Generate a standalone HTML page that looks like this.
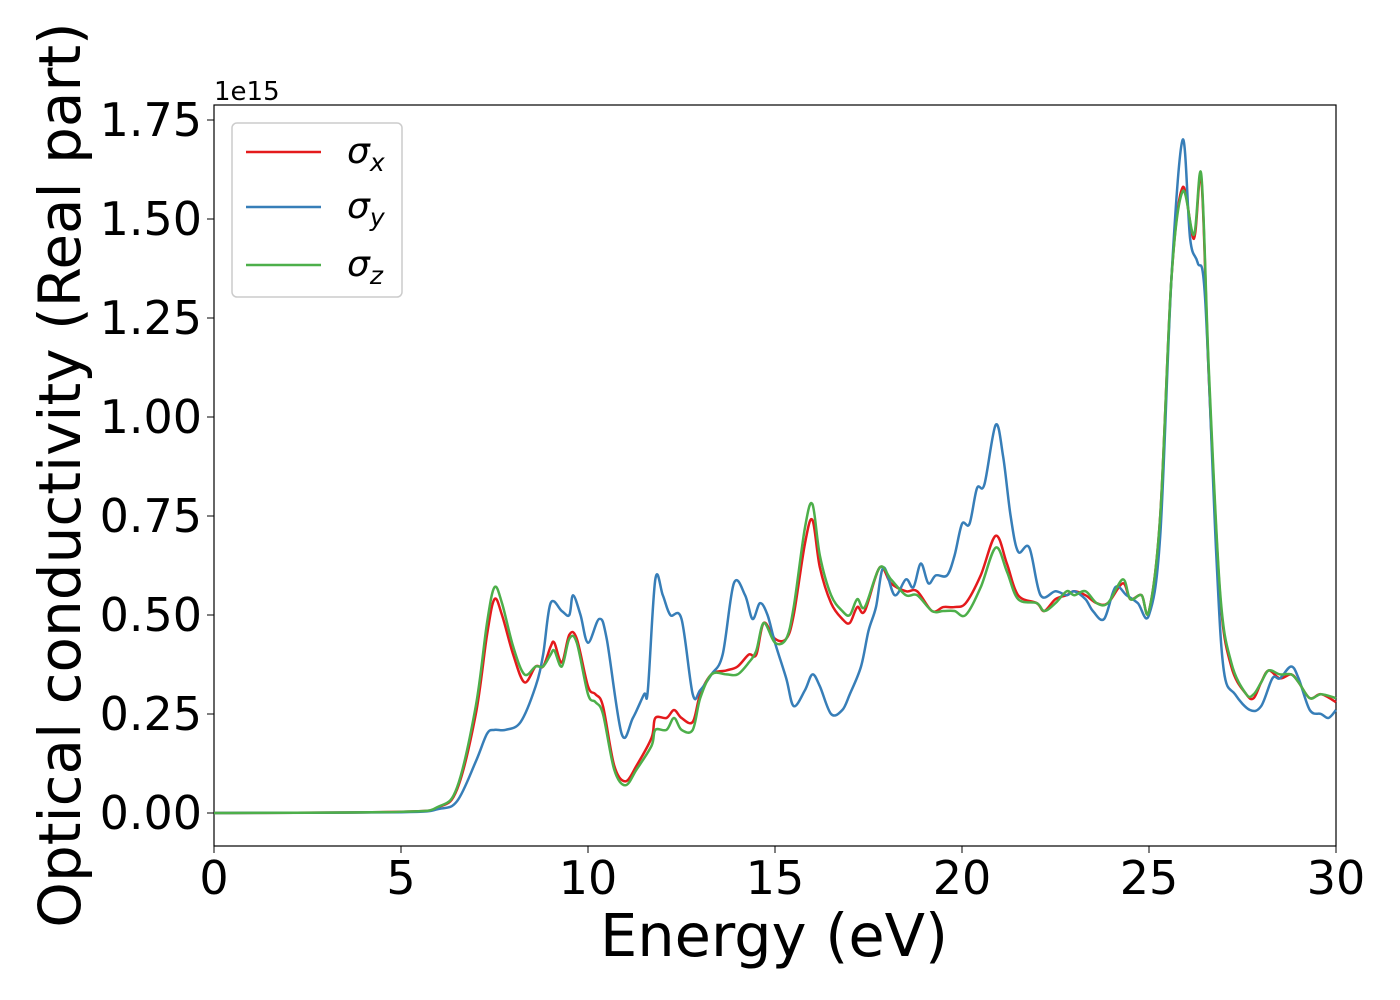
<!DOCTYPE html>
<html><head><meta charset="utf-8"><style>
body{margin:0;background:#fff}
svg{display:block;font-family:"DejaVu Sans","Liberation Sans",sans-serif}
</style></head><body>
<svg id="chart" width="1400" height="1000">
<rect x="214" y="105" width="1122" height="741" fill="#fff" stroke="#000" stroke-width="1.2"/>
<g id="ticks"></g>
<g id="lines"></g>
<text x="214" y="100" font-size="26">1e15</text>
<text x="774" y="956" font-size="59" text-anchor="middle">Energy (eV)</text>
<text transform="translate(80,475) rotate(-90)" font-size="58" text-anchor="middle">Optical conductivity (Real part)</text>
<g>
<rect x="232" y="123" width="170" height="174" rx="5" fill="#fff" stroke="#ccc" stroke-width="1.5"/>
<g><line x1="246" y1="152" x2="321" y2="152" stroke="#e41a1c" stroke-width="2.5"/><text x="347" y="163" font-size="36" font-style="italic">σ<tspan font-size="25" dy="8">x</tspan></text></g>
<g><line x1="246" y1="207" x2="321" y2="207" stroke="#377eb8" stroke-width="2.5"/><text x="347" y="218" font-size="36" font-style="italic">σ<tspan font-size="25" dy="8">y</tspan></text></g>
<g><line x1="246" y1="265" x2="321" y2="265" stroke="#4daf4a" stroke-width="2.5"/><text x="347" y="276" font-size="36" font-style="italic">σ<tspan font-size="25" dy="8">z</tspan></text></g>
</g>
</svg>
<script>
const xTicks=[0,5,10,15,20,25,30];
const yTicks=[0,0.25,0.5,0.75,1.0,1.25,1.5,1.75];
const yTickLabels=["0.00","0.25","0.50","0.75","1.00","1.25","1.50","1.75"];
const sigmaX=[[0,0],[5,0.003],[6,0.015],[6.5,0.06],[7,0.25],[7.3,0.45],[7.5,0.54],[7.7,0.5],[8,0.4],[8.3,0.33],[8.6,0.37],[8.8,0.37],[9,0.42],[9.1,0.43],[9.3,0.38],[9.5,0.45],[9.7,0.44],[10,0.32],[10.2,0.3],[10.4,0.27],[10.7,0.12],[11,0.08],[11.3,0.12],[11.7,0.19],[11.8,0.24],[12.1,0.24],[12.3,0.26],[12.5,0.24],[12.8,0.23],[13,0.3],[13.3,0.35],[13.7,0.36],[14,0.37],[14.3,0.4],[14.5,0.4],[14.7,0.48],[15,0.44],[15.3,0.44],[15.5,0.5],[15.8,0.68],[16,0.74],[16.2,0.62],[16.5,0.53],[16.8,0.49],[17,0.48],[17.2,0.52],[17.4,0.51],[17.8,0.62],[18.1,0.58],[18.5,0.56],[18.8,0.56],[19.2,0.51],[19.5,0.52],[19.8,0.52],[20.1,0.53],[20.5,0.6],[20.9,0.7],[21.2,0.63],[21.5,0.55],[22,0.53],[22.2,0.51],[22.5,0.54],[22.8,0.55],[23,0.56],[23.3,0.55],[23.6,0.53],[23.9,0.53],[24.3,0.58],[24.5,0.54],[24.8,0.55],[25,0.51],[25.3,0.75],[25.6,1.35],[25.9,1.58],[26.2,1.45],[26.4,1.6],[26.6,1.1],[26.9,0.55],[27.2,0.37],[27.6,0.3],[27.8,0.29],[28,0.33],[28.2,0.36],[28.5,0.34],[28.8,0.35],[29,0.33],[29.3,0.29],[29.6,0.3],[30,0.28]];
const sigmaY=[[0,0],[5,0.002],[6,0.01],[6.5,0.03],[7,0.13],[7.3,0.2],[7.5,0.21],[7.8,0.21],[8.2,0.23],[8.6,0.32],[8.8,0.4],[9,0.53],[9.3,0.51],[9.5,0.5],[9.6,0.55],[9.8,0.5],[10,0.43],[10.3,0.49],[10.5,0.44],[10.9,0.2],[11.2,0.24],[11.5,0.3],[11.6,0.31],[11.8,0.59],[12,0.55],[12.2,0.5],[12.5,0.49],[12.8,0.3],[13,0.31],[13.3,0.35],[13.6,0.4],[13.9,0.58],[14.2,0.55],[14.4,0.49],[14.6,0.53],[14.8,0.5],[15,0.43],[15.3,0.34],[15.5,0.27],[15.8,0.31],[16,0.35],[16.2,0.32],[16.5,0.25],[16.8,0.26],[17,0.3],[17.3,0.37],[17.5,0.46],[17.7,0.52],[17.9,0.62],[18.2,0.55],[18.5,0.59],[18.7,0.57],[18.9,0.63],[19.1,0.58],[19.3,0.6],[19.6,0.6],[19.8,0.65],[20,0.73],[20.2,0.73],[20.4,0.82],[20.6,0.83],[20.9,0.98],[21.1,0.9],[21.3,0.75],[21.5,0.66],[21.8,0.67],[22.1,0.55],[22.5,0.56],[22.8,0.55],[23,0.56],[23.3,0.54],[23.5,0.51],[23.8,0.49],[24.1,0.57],[24.4,0.55],[24.7,0.53],[25,0.5],[25.3,0.7],[25.6,1.35],[25.9,1.7],[26.1,1.45],[26.3,1.39],[26.5,1.3],[26.8,0.65],[27,0.36],[27.3,0.3],[27.7,0.26],[28,0.27],[28.3,0.34],[28.5,0.34],[28.8,0.37],[29,0.34],[29.3,0.26],[29.6,0.25],[29.8,0.24],[30,0.26]];
const sigmaZ=[[0,0],[5,0.003],[6,0.016],[6.5,0.065],[7,0.27],[7.3,0.48],[7.5,0.57],[7.7,0.53],[8,0.42],[8.3,0.35],[8.6,0.37],[8.8,0.37],[9,0.4],[9.1,0.41],[9.3,0.37],[9.5,0.44],[9.7,0.43],[10,0.3],[10.2,0.28],[10.4,0.25],[10.7,0.11],[11,0.07],[11.3,0.11],[11.7,0.17],[11.8,0.21],[12.1,0.21],[12.3,0.24],[12.5,0.21],[12.8,0.21],[13,0.29],[13.3,0.35],[13.7,0.35],[14,0.35],[14.3,0.38],[14.5,0.41],[14.7,0.48],[15,0.43],[15.3,0.44],[15.5,0.52],[15.8,0.72],[16,0.78],[16.2,0.65],[16.5,0.55],[16.8,0.51],[17,0.5],[17.2,0.54],[17.4,0.52],[17.8,0.62],[18.1,0.59],[18.5,0.55],[18.8,0.55],[19.2,0.51],[19.5,0.51],[19.8,0.51],[20.1,0.5],[20.5,0.57],[20.9,0.67],[21.2,0.61],[21.5,0.54],[22,0.53],[22.2,0.51],[22.5,0.53],[22.8,0.56],[23,0.55],[23.3,0.56],[23.6,0.53],[23.9,0.53],[24.3,0.59],[24.5,0.54],[24.8,0.55],[25,0.51],[25.3,0.75],[25.6,1.35],[25.9,1.57],[26.2,1.46],[26.4,1.61],[26.6,1.12],[26.9,0.56],[27.2,0.38],[27.6,0.3],[27.8,0.3],[28,0.33],[28.2,0.36],[28.5,0.35],[28.8,0.35],[29,0.33],[29.3,0.29],[29.6,0.3],[30,0.29]];

const X0=214,X1=1336,Y0=813,PX=396;
function sx(v){return X0+(v-0)/30*(X1-X0);}
function sy(v){return Y0-v*PX;}
const NS="http://www.w3.org/2000/svg";
const tg=document.getElementById('ticks');
xTicks.forEach(t=>{
  const l=document.createElementNS(NS,'line');
  l.setAttribute('x1',sx(t));l.setAttribute('x2',sx(t));l.setAttribute('y1',846);l.setAttribute('y2',853);l.setAttribute('stroke','#000');
  
  
  tg.appendChild(l);
  const tx=document.createElementNS(NS,'text');
  tx.setAttribute('x',sx(t));tx.setAttribute('y',894);tx.setAttribute('font-size','46');tx.setAttribute('text-anchor','middle');
  tx.textContent=t;
  
  
  tg.appendChild(tx);
});
yTicks.forEach((t,i)=>{
  const l=document.createElementNS(NS,'line');
  l.setAttribute('x1',207);l.setAttribute('x2',214);l.setAttribute('y1',sy(t));l.setAttribute('y2',sy(t));l.setAttribute('stroke','#000');
  
  
  tg.appendChild(l);
  const tx=document.createElementNS(NS,'text');
  tx.setAttribute('x',202);tx.setAttribute('y',sy(t)+16);tx.setAttribute('font-size','46');tx.setAttribute('text-anchor','end');
  tx.textContent=yTickLabels[i];
  
  
  tg.appendChild(tx);
});
function pathFor(d){
  const p=d.map(q=>[sx(q[0]),sy(q[1])]);
  let s='M'+p[0][0]+','+p[0][1];
  for(let i=0;i<p.length-1;i++){
    const a=p[Math.max(i-1,0)],b=p[i],c=p[i+1],e=p[Math.min(i+2,p.length-1)];
    const c1=[b[0]+(c[0]-a[0])/6,b[1]+(c[1]-a[1])/6],c2=[c[0]-(e[0]-b[0])/6,c[1]-(e[1]-b[1])/6];
    s+=' C'+c1[0]+','+c1[1]+' '+c2[0]+','+c2[1]+' '+c[0]+','+c[1];
  }
  return s;
}
const lg=document.getElementById('lines');
[[sigmaX,'#e41a1c','sigma-x-line'],[sigmaY,'#377eb8','sigma-y-line'],[sigmaZ,'#4daf4a','sigma-z-line']].forEach(s=>{
  const p=document.createElementNS(NS,'path');
  p.setAttribute('d',pathFor(s[0]));p.setAttribute('fill','none');p.setAttribute('stroke',s[1]);p.setAttribute('stroke-width','2.5');
  
  
  lg.appendChild(p);
});
</script>
</body></html>
